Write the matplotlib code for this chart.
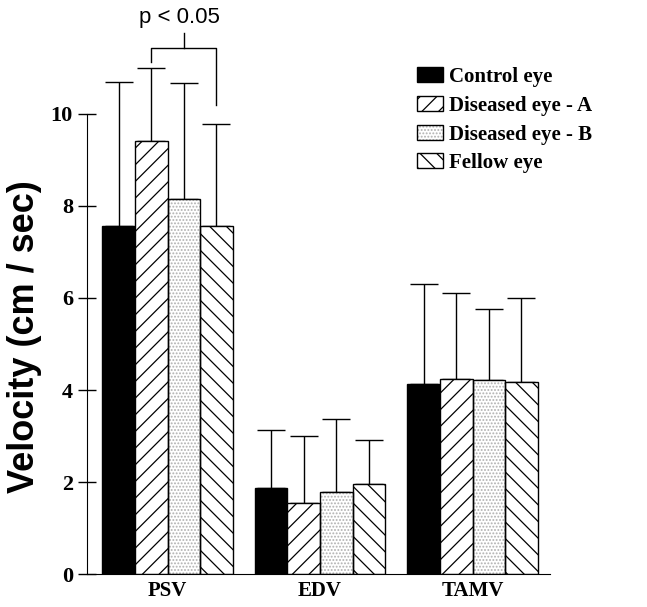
import matplotlib
matplotlib.use("Agg")
import matplotlib.pyplot as plt
from matplotlib.patches import Rectangle
import numpy as np

categories = ["PSV", "EDV", "TAMV"]
series_names = ["Control eye", "Diseased eye - A", "Diseased eye - B", "Fellow eye"]
control_mean = [7.57, 1.88, 4.12]
control_sd = [3.13, 1.25, 2.18]
diseased_a_mean = [9.41, 1.54, 4.24]
diseased_a_sd = [1.60, 1.47, 1.87]
diseased_b_mean = [8.15, 1.78, 4.22]
diseased_b_sd = [2.52, 1.58, 1.55]
fellow_mean = [7.57, 1.95, 4.17]
fellow_sd = [2.21, 0.96, 1.83]
yticks = [0, 2, 4, 6, 8, 10]
sig_text = "p < 0.05"

means = [control_mean, diseased_a_mean, diseased_b_mean, fellow_mean]
sds = [control_sd, diseased_a_sd, diseased_b_sd, fellow_sd]
faces = ["black", "white", "white", "white"]
hatches = [None, "//", ".....", "\\\\"]
hatch_cols = ["black", "black", "#b0b0b0", "black"]

W, H = 647, 607
fig = plt.figure(figsize=(W / 100, H / 100), dpi=100)
plt.rcParams["hatch.linewidth"] = 0.9
ax = fig.add_axes([87 / W, 33 / H, 463 / W, 574 / H])

serif = "Liberation Serif"
sans = "Liberation Sans"

x = np.arange(len(categories))
w = 0.214
for i in range(4):
    xs = x + (i - 1.5) * w
    if hatches[i] is None:
        ax.bar(xs, means[i], w, color=faces[i], edgecolor="black", linewidth=1, zorder=2)
    else:
        ax.bar(xs, means[i], w, color=faces[i], edgecolor=hatch_cols[i], hatch=hatches[i],
               linewidth=0, zorder=2)
        ax.bar(xs, means[i], w, fill=False, edgecolor="black", linewidth=1, zorder=3)
    ax.errorbar(xs, means[i], yerr=[np.zeros(3), sds[i]], fmt="none", ecolor="black",
                elinewidth=1, capsize=10.4, capthick=1, zorder=1)

ax.set_xlim(-0.528, 2.508)
ax.set_ylim(0, 574 / 46)
ax.spines["top"].set_visible(False)
ax.spines["right"].set_visible(False)
ax.spines["left"].set_bounds(0, 10)
ax.set_yticks(yticks)
ax.set_yticklabels([str(t) for t in yticks], fontfamily=serif, fontweight="bold", fontsize=16)
ax.tick_params(axis="y", direction="inout", length=13, width=1, pad=3.6)
ax.set_xticks(x)
ax.set_xticklabels(categories, fontfamily=serif, fontweight="bold", fontsize=15)
ax.tick_params(axis="x", length=0, pad=5)

fig.text(24.5 / W, 1 - 336.5 / H, "Velocity (cm / sec)", rotation=90, ha="center", va="center",
         fontfamily=sans, fontweight="bold", fontsize=26)

# significance bracket between Diseased eye - A and Fellow eye (PSV)
xa = x[0] - 0.5 * w
xf = x[0] + 1.5 * w
ax.plot([xa, xa, xf, xf], [11.14, 11.44, 11.44, 10.2], color="black", lw=1, clip_on=False)
xm = (xa + xf) / 2
ax.plot([xm, xm], [11.44, 11.75], color="black", lw=1, clip_on=False)
ax.text(xm - 0.03, 12.1, sig_text, ha="center", va="center", fontfamily=sans, fontsize=16)

# legend
tops = [67, 96, 125, 153]
for i in range(4):
    y0 = 1 - (tops[i] + 15) / H
    if hatches[i] is None:
        fig.add_artist(Rectangle((417 / W, y0), 26 / W, 15 / H, transform=fig.transFigure,
                                 facecolor="black", edgecolor="black", lw=1))
    else:
        fig.add_artist(Rectangle((417 / W, y0), 26 / W, 15 / H, transform=fig.transFigure,
                                 facecolor="white", edgecolor=hatch_cols[i], hatch=hatches[i], lw=0))
        fig.add_artist(Rectangle((417 / W, y0), 26 / W, 15 / H, transform=fig.transFigure,
                                 fill=False, edgecolor="black", lw=1))
    fig.text(449 / W, y0, series_names[i], ha="left", va="baseline", fontfamily=serif,
             fontweight="bold", fontsize=15)

fig.savefig("out.png", dpi=100)
